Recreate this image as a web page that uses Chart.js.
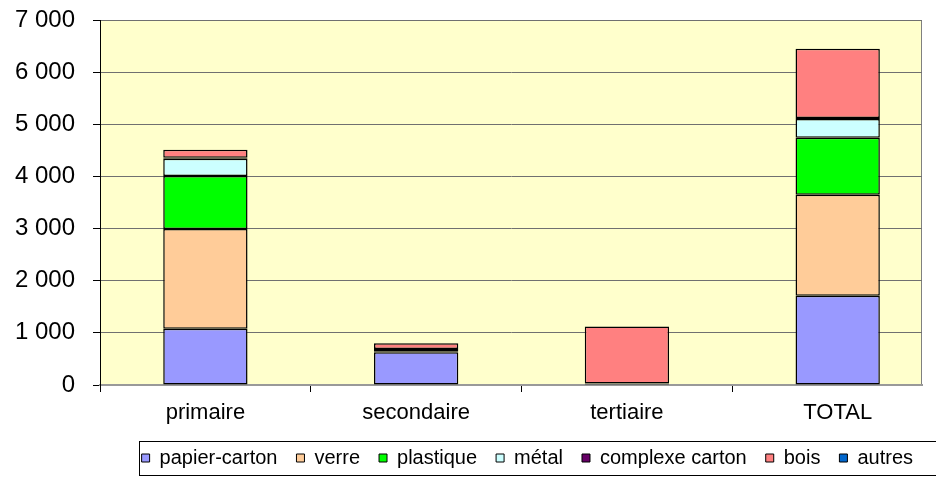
<!DOCTYPE html>
<html lang="fr">
<head>
<meta charset="UTF-8" />
<title>Déchets par secteur</title>
<script src="https://cdn.jsdelivr.net/npm/chart.js"></script>
<style>
  html, body { margin: 0; padding: 0; background: #fff; }
  .chart-container { width: 936px; height: 500px; }
</style>
</head>
<body>
<div class="chart-container">
  <canvas id="chart"></canvas>
</div>

<script>
// categories and tick values
const categories = ['primaire', 'secondaire', 'tertiaire', 'TOTAL'];
const yTicks = [0, 1000, 2000, 3000, 4000, 5000, 6000, 7000];

// series
const papierCarton   = [1080, 630, 20, 1710];
const verre          = [1910, 0, 0, 1940];
const plastique      = [1020, 10, 0, 1090];
const metal          = [330, 0, 0, 360];
const complexeCarton = [20, 50, 10, 20];
const bois           = [150, 110, 1090, 1330];
const autres         = [0, 0, 0, 0];

const FONT = "'Liberation Sans', Arial, sans-serif";

function ds(label, data, color) {
    return {
        label, data,
        backgroundColor: color,
        borderColor: '#000',
        borderWidth: 1.5,
        borderSkipped: false,
        categoryPercentage: 1,
        barPercentage: 0.4
    }
}

const fmt = v => String(v).replace(/\B(?=(\d{3})+$)/g, ' ');

// yellow plot area + gray frame
const plotBg = {
    id: 'plotBg',
    beforeDraw(chart) {
        const { ctx, chartArea: a } = chart;
        ctx.save();
        ctx.fillStyle = '#FFFFCC';
        ctx.fillRect(a.left, a.top, a.right - a.left, a.bottom - a.top);
        ctx.strokeStyle = '#808080';
        ctx.lineWidth = 1;
        ctx.strokeRect(a.left + 0.5, a.top + 0.5, a.right - a.left - 1, a.bottom - a.top);
        ctx.restore();

        // legend: nudge right and put a frame round it
        const lg = chart.legend;
        if (lg && !lg._wrapped) {
            const orig = lg.draw;
            lg.draw = function (area) {
                const c = this.ctx;
                c.save();
                c.translate(10, 0);
                orig.call(this, area);
                const boxes = this.legendHitBoxes;
                if (boxes && boxes.length) {
                    const l = Math.min(...boxes.map(b => b.left));
                    const r = Math.max(...boxes.map(b => b.left + b.width));
                    const t = Math.min(...boxes.map(b => b.top));
                    const h = boxes[0].height;
                    c.strokeStyle = '#000';
                    c.lineWidth = 1;
                    c.strokeRect(Math.round(l - 3) + 0.5, Math.round(t - 7) + 0.5,
                                 Math.round(r - l + 30), Math.round(h + 14));
                }
                c.restore();
            };
            lg._wrapped = true;
        }
    }
};

new Chart(document.getElementById('chart'), {
    type: 'bar',
    data: {
        labels: categories,
        datasets: [
            ds('papier-carton', papierCarton, '#9999FF'),
            ds('verre', verre, '#FFCC99'),
            ds('plastique', plastique, '#00FF00'),
            ds('métal', metal, '#CCFFFF'),
            ds('complexe carton', complexeCarton, '#660066'),
            ds('bois', bois, '#FF8080'),
            ds('autres', autres, '#0066CC')
        ]
    },
    options: {
        responsive: true,
        maintainAspectRatio: false,
        animation: false,
        layout: { padding: { top: 20, right: 14, left: 0, bottom: 22 } },
        plugins: {
            tooltip: { enabled: false },
            legend: {
                position: 'bottom',
                align: 'end',
                labels: {
                    font: { family: FONT, size: 20 },
                    color: '#000',
                    boxWidth: 8,
                    boxHeight: 8,
                    padding: 19,
                    generateLabels(chart) {
                        return chart.data.datasets.map((d, i) => ({
                            text: d.label,
                            fillStyle: d.backgroundColor,
                            strokeStyle: '#000',
                            lineWidth: 1,
                            datasetIndex: i,
                            hidden: false,
                            fontColor: '#000'
                        }));
                    }
                }
            }
        },
        scales: {
            x: {
                stacked: true,
                offset: true,
                grid: { drawOnChartArea: false, drawTicks: true, tickLength: 7, tickColor: '#000', offset: true },
                border: { color: '#999', width: 2 },
                ticks: { color: '#000', font: { family: FONT, size: 22 }, padding: 8, maxRotation: 0 },
                // categories are a bit wider than a quarter of the plot: the last one runs past the right edge
                afterBuildTicks(s) { s._valueRange = 3.9; },
                afterFit(s) { s.height = 44; s.paddingLeft = 0; s.paddingRight = 0; }
            },
            y: {
                stacked: true,
                min: 0, max: 7000,
                afterBuildTicks(s) { s.ticks = yTicks.map(v => ({ value: v })); },
                grid: { color: '#707070', lineWidth: 1, tickLength: 7, tickColor: '#000' },
                border: { color: '#000', width: 1 },
                ticks: { color: '#000', font: { family: FONT, size: 24 }, padding: 18, callback: v => fmt(v) },
                afterFit(s) { s.width = 100; s.paddingTop = 0; s.paddingBottom = 0; }
            }
        }
    },
    plugins: [plotBg]
});
</script>
</body>
</html>
